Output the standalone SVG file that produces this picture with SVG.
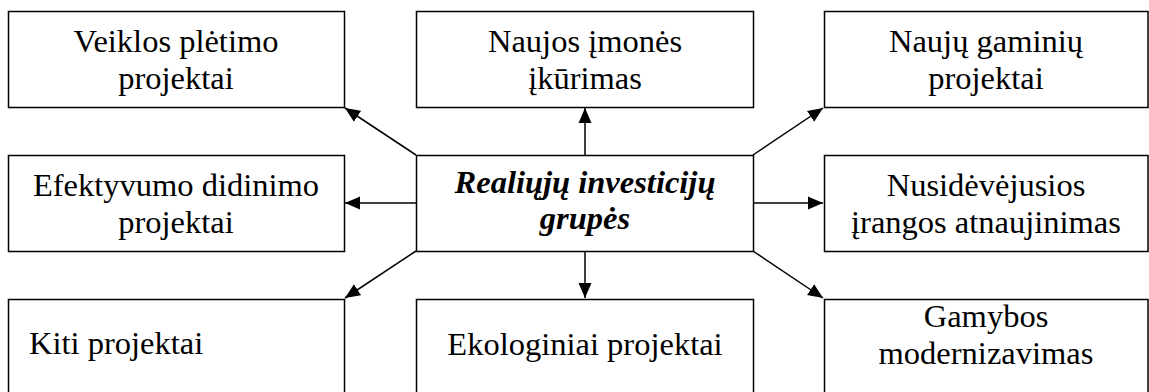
<svg xmlns="http://www.w3.org/2000/svg" width="1149" height="392" viewBox="0 0 1149 392">
<style>
.box{fill:#fff;stroke:#000;stroke-width:1.5}
.t{font-family:"Liberation Serif","Times New Roman",serif;font-size:32.5px;fill:#000;text-anchor:middle}
.b{font-weight:bold;font-style:italic}
.c{stroke:#000;stroke-width:1.5;fill:none;marker-end:url(#ah)}
</style>
<defs>
<marker id="ah" markerUnits="userSpaceOnUse" markerWidth="16" markerHeight="14" refX="15" refY="7" orient="auto">
<path d="M0,0.5 L15,7 L0,13.5 Z" fill="#000"/>
</marker>
</defs>
<rect width="1149" height="392" fill="#fff"/>
<g id="connectors">
<line class="c" x1="416" y1="155" x2="345" y2="108"/>
<line class="c" x1="585" y1="155" x2="585" y2="108"/>
<line class="c" x1="753" y1="155" x2="823" y2="108"/>
<line class="c" x1="416" y1="203" x2="345" y2="203"/>
<line class="c" x1="753" y1="203" x2="823" y2="203"/>
<line class="c" x1="416" y1="251" x2="345" y2="298"/>
<line class="c" x1="585" y1="251" x2="585" y2="298"/>
<line class="c" x1="753" y1="251" x2="823" y2="298"/>
</g>
<g id="n-veiklos">
<rect class="box" x="8.5" y="11.5" width="336" height="96"/>
<text class="t" x="176" y="52">Veiklos plėtimo</text>
<text class="t" x="176" y="89">projektai</text>
</g>
<g id="n-naujos-imones">
<rect class="box" x="416.5" y="11.5" width="337" height="96"/>
<text class="t" x="585" y="52">Naujos įmonės</text>
<text class="t" x="585" y="89">įkūrimas</text>
</g>
<g id="n-nauju-gaminiu">
<rect class="box" x="824.5" y="11.5" width="323.5" height="96"/>
<text class="t" x="986" y="52">Naujų gaminių</text>
<text class="t" x="986" y="89">projektai</text>
</g>
<g id="n-efektyvumo">
<rect class="box" x="8.5" y="155.5" width="336" height="96"/>
<text class="t" x="176" y="196">Efektyvumo didinimo</text>
<text class="t" x="176" y="233">projektai</text>
</g>
<g id="n-center">
<rect class="box" x="416.5" y="155.5" width="337" height="96"/>
<text class="t b" x="585" y="193">Realiųjų investicijų</text>
<text class="t b" x="585" y="229">grupės</text>
</g>
<g id="n-nusidevejusios">
<rect class="box" x="824.5" y="155.5" width="323.5" height="96"/>
<text class="t" x="986" y="196">Nusidėvėjusios</text>
<text class="t" x="986" y="233">įrangos atnaujinimas</text>
</g>
<g id="n-kiti">
<rect class="box" x="8.5" y="299.5" width="336" height="110"/>
<text class="t" x="29" y="354" style="text-anchor:start">Kiti projektai</text>
</g>
<g id="n-ekologiniai">
<rect class="box" x="416.5" y="299.5" width="337" height="110"/>
<text class="t" x="585" y="355">Ekologiniai projektai</text>
</g>
<g id="n-gamybos">
<rect class="box" x="824.5" y="299.5" width="323.5" height="110"/>
<text class="t" x="986" y="327">Gamybos</text>
<text class="t" x="986" y="364">modernizavimas</text>
</g>
</svg>
